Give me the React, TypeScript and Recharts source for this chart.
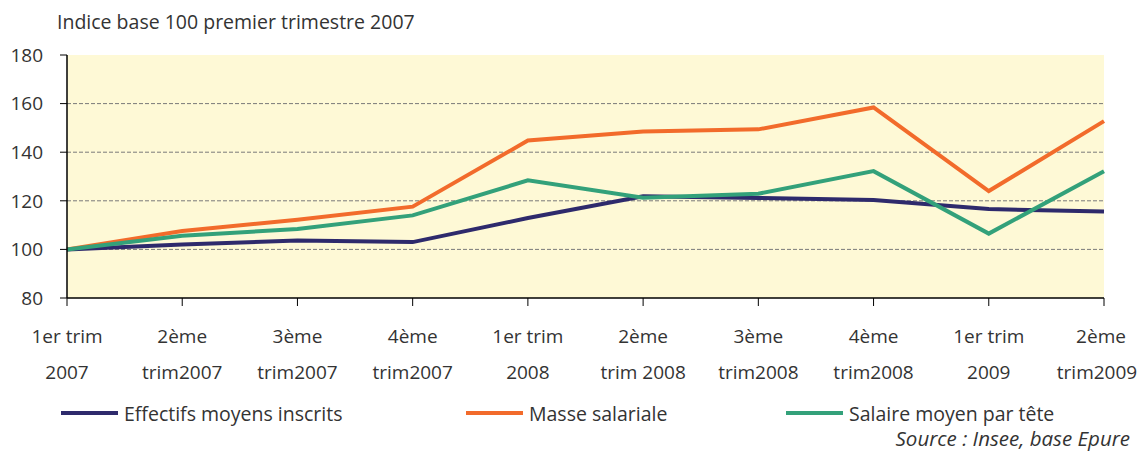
import React from 'react';
import { LineChart, Line, XAxis, YAxis, ReferenceLine, ReferenceArea } from 'recharts';

const quarters = [
  '1er trim 2007', '2ème trim2007', '3ème trim2007', '4ème trim2007', '1er trim 2008',
  '2ème trim 2008', '3ème trim2008', '4ème trim2008', '1er trim 2009', '2ème trim2009',
];
const labelTop = ['1er trim', '2ème', '3ème', '4ème', '1er trim', '2ème', '3ème', '4ème', '1er trim', '2ème'];
const labelBottom = ['2007', 'trim2007', 'trim2007', 'trim2007', '2008', 'trim 2008', 'trim2008', 'trim2008', '2009', 'trim2009'];

const effectifs = [100, 102, 103.7, 103, 112.9, 121.9, 121.2, 120.3, 116.6, 115.6];
const masse = [100, 107.6, 112.2, 117.6, 144.8, 148.5, 149.4, 158.4, 124, 152.8];
const salaire = [100, 105.6, 108.4, 114, 128.4, 121.3, 122.9, 132.2, 106.5, 132.2];

const yTicks = [80, 100, 120, 140, 160, 180];
const gridValues = [100, 120, 140, 160];

const series = [
  { key: 'effectifs', name: 'Effectifs moyens inscrits', color: '#2e2a6c' },
  { key: 'masse', name: 'Masse salariale', color: '#f26b2b' },
  { key: 'salaire', name: 'Salaire moyen par tête', color: '#33a17a' },
];

const data = quarters.map((q, i) => ({
  quarter: q,
  effectifs: effectifs[i],
  masse: masse[i],
  salaire: salaire[i],
}));

const font = '"Open Sans", sans-serif';
const textColor = '#333';

// last label is nudged left so it stays inside the picture, as in the original
const QuarterTick = (props: any) => {
  const { x, y, index } = props;
  const xTop = Math.min(x, 1101);
  const xBottom = Math.min(x, 1097);
  return (
    <text x={x} y={y} textAnchor="middle" fill={textColor} fontSize={19} fontFamily={font}>
      <tspan x={xTop} dy={35}>{labelTop[index]}</tspan>
      <tspan x={xBottom} dy={36}>{labelBottom[index]}</tspan>
    </text>
  );
};

const legendX = [61, 466, 786];

export default function App() {
  return (
    <div style={{ position: 'absolute', left: 0, top: 0, width: 1141, height: 452, background: '#fff', fontFamily: font, color: textColor }}>
      <div style={{ position: 'absolute', left: 57, top: 8, fontSize: 19.5, lineHeight: '28px' }}>
        Indice base 100 premier trimestre 2007
      </div>
      <LineChart width={1141} height={452} data={data} margin={{ top: 55, right: 37, bottom: 0, left: 0 }}>
        <ReferenceArea y1={80} y2={180} fill="#fef9d6" fillOpacity={1} stroke="none" ifOverflow="visible" />
        {gridValues.map((v) => (
          <ReferenceLine key={v} y={v} stroke="#7a7a7a" strokeDasharray="4 2" strokeWidth={1} />
        ))}
        <XAxis
          dataKey="quarter"
          tick={<QuarterTick />}
          tickSize={8}
          axisLine={{ stroke: '#000', strokeWidth: 1.5 }}
          tickLine={{ stroke: '#000' }}
          interval={0}
          height={154}
        />
        <YAxis
          domain={[80, 180]}
          ticks={yTicks}
          width={67}
          tickSize={7}
          tickMargin={17}
          axisLine={{ stroke: '#000', strokeWidth: 1.5 }}
          tickLine={{ stroke: '#000' }}
          tick={{ fill: textColor, fontSize: 19, fontFamily: font }}
        />
        {series.map((s) => (
          <Line
            key={s.key}
            type="linear"
            dataKey={s.key}
            name={s.name}
            stroke={s.color}
            strokeWidth={4}
            dot={false}
            activeDot={false}
            isAnimationActive={false}
          />
        ))}
      </LineChart>
      {series.map((s, i) => (
        <div key={s.key} style={{ position: 'absolute', left: legendX[i], top: 398, height: 30, display: 'flex', alignItems: 'center', fontSize: 19.5 }}>
          <div style={{ width: 57, height: 4, background: s.color, marginRight: 6 }} />
          <span>{s.name}</span>
        </div>
      ))}
      <div style={{ position: 'absolute', right: 11, top: 425, fontSize: 20.5, lineHeight: '26px', fontStyle: 'italic' }}>
        Source : Insee, base Epure
      </div>
    </div>
  );
}
